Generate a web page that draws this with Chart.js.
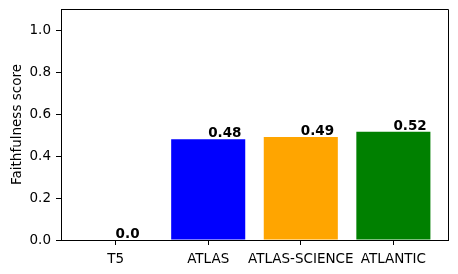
<!DOCTYPE html>
<html>
<head>
<meta charset="utf-8">
<script src="https://cdn.jsdelivr.net/npm/chart.js@4"></script>
<style>
  html, body { margin: 0; padding: 0; background: #fff; }
  #wrap { width: 458px; height: 274px; }
</style>
</head>
<body>
<div id="wrap"><canvas id="faith" width="458" height="274"></canvas></div>
<script>
const models = ['T5', 'ATLAS', 'ATLAS-SCIENCE', 'ATLANTIC'];
const scores = [0.0, 0.48, 0.49, 0.515];
const scoreText = ['0.0', '0.48', '0.49', '0.52'];
const barColors = ['red', '#0000ff', '#ffa500', '#008000'];
const yTicks = [0.0, 0.2, 0.4, 0.6, 0.8, 1.0];

const font = 'DejaVu Sans';

// value labels + top/right frame like matplotlib
const extras = {
    id: 'extras',
    afterDatasetsDraw(chart) {
        const c = chart.ctx, xs = chart.scales.x, ys = chart.scales.y;
        c.save();
        c.font = 'bold 13.5px "' + font + '"';
        c.fillStyle = '#000';
        c.textAlign = 'left';
        c.textBaseline = 'alphabetic';
        scores.forEach((v, i) => {
            c.fillText(scoreText[i], xs.getPixelForValue(i), ys.getPixelForValue(v) - 2);
        });
        const a = chart.chartArea;
        c.strokeStyle = '#000';
        c.lineWidth = 1;
        c.beginPath();
        c.moveTo(a.left, a.top + 0.5);
        c.lineTo(a.right + 0.5, a.top + 0.5);
        c.lineTo(a.right + 0.5, a.bottom);
        c.stroke();
        c.restore();
    }
};

new Chart(document.getElementById('faith'), {
    type: 'bar',
    data: {
        datasets: [{
            data: scores.map((v, i) => ({ x: i, y: v })),
            backgroundColor: barColors,
            borderWidth: 0,
            categoryPercentage: 0.8,
            barPercentage: 1.0
        }]
    },
    options: {
        responsive: false,
        animation: false,
        layout: { padding: { left: 0, right: 10, top: 9, bottom: 0 } },
        plugins: { legend: { display: false }, tooltip: { enabled: false } },
        scales: {
            x: {
                type: 'linear',
                min: -0.59,
                max: 3.59,
                offset: false,
                afterBuildTicks: s => { s.ticks = models.map((m, i) => ({ value: i })); },
                afterFit: s => { s.height = 34; s.paddingLeft = 0; s.paddingRight = 0; },
                grid: { offset: false, drawOnChartArea: false, tickLength: 5, color: '#000' },
                border: { color: '#000', width: 1 },
                ticks: {
                    callback: v => models[v],
                    autoSkip: false,
                    maxRotation: 0,
                    padding: 6,
                    color: '#000',
                    font: { family: font, size: 13.5 }
                }
            },
            y: {
                min: 0,
                max: 1.1,
                afterBuildTicks: s => { s.ticks = yTicks.map(v => ({ value: v })); },
                afterFit: s => { s.width = 61; s.paddingTop = 0; s.paddingBottom = 0; },
                grid: { drawOnChartArea: false, tickLength: 5, color: '#000' },
                border: { color: '#000', width: 1 },
                title: {
                    display: true,
                    text: 'Faithfulness score',
                    color: '#000',
                    font: { family: font, size: 13.5 },
                    padding: { top: 9, bottom: 0 }
                },
                ticks: {
                    callback: v => v.toFixed(1),
                    padding: 5,
                    color: '#000',
                    font: { family: font, size: 13.5 }
                }
            }
        }
    },
    plugins: [extras]
});
</script>
</body>
</html>
